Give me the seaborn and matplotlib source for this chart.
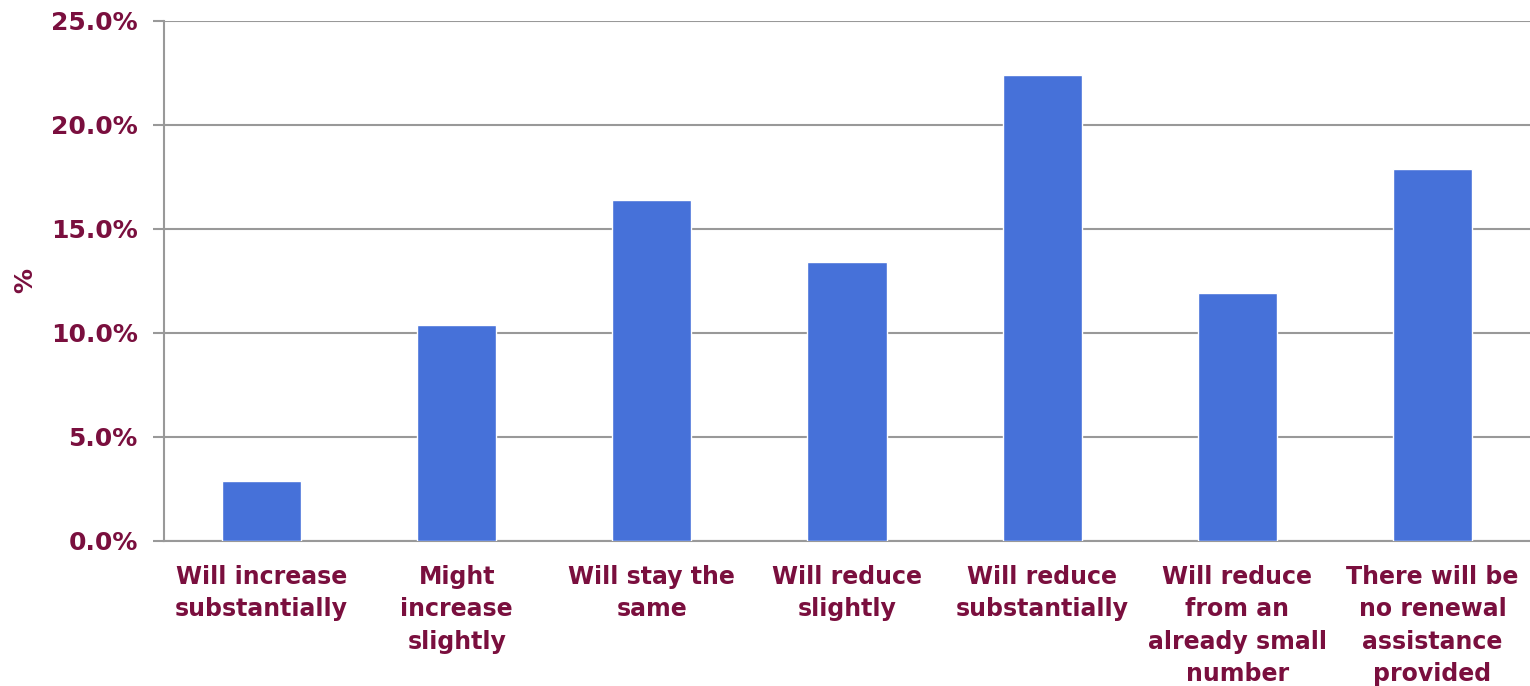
import matplotlib
matplotlib.use("Agg")
import matplotlib.pyplot as plt
import seaborn as sns
import pandas as pd
from matplotlib.ticker import PercentFormatter

categories = [
    "Will increase\nsubstantially",
    "Might\nincrease\nslightly",
    "Will stay the\nsame",
    "Will reduce\nslightly",
    "Will reduce\nsubstantially",
    "Will reduce\nfrom an\nalready small\nnumber",
    "There will be\nno renewal\nassistance\nprovided",
]
values = [2.9, 10.4, 16.4, 13.4, 22.4, 11.9, 17.9]
yticks = [0, 5, 10, 15, 20, 25]

text_color = "#7A0F3E"
bar_color = "#4671D9"
grid_color = "#999999"

sns.set_theme(style="white")
plt.rcParams['font.family'] = ['DejaVu Sans']

df = pd.DataFrame({"cat": categories, "val": values})

fig = plt.figure(figsize=(15.3, 6.86), dpi=100)
ax = fig.add_axes([0.1072, 0.2114, 0.8928, 0.7580])

sns.barplot(data=df, x="cat", y="val", color=bar_color, width=0.405,
            saturation=1, ax=ax, zorder=3)

ax.set_ylim(0, 25)
ax.set_xlim(-0.5, 6.5)
ax.set_yticks(yticks)
ax.yaxis.set_major_formatter(PercentFormatter(decimals=1))
ax.grid(axis="y", color=grid_color, linewidth=1.5, zorder=0)
ax.set_axisbelow(True)

for s in ["top", "right"]:
    ax.spines[s].set_visible(False)
for s in ["left", "bottom"]:
    ax.spines[s].set_color(grid_color)
    ax.spines[s].set_linewidth(1.5)

ax.set_xticks(range(len(categories)))
ax.set_xticklabels(categories, fontsize=17, fontweight="bold", color=text_color,
                   linespacing=1.45, va="top")
ax.tick_params(axis="x", which="major", length=0, pad=17)
ax.set_xticks([i + 0.5 for i in range(len(categories))], minor=True)
ax.tick_params(axis="x", which="minor", length=6, width=1.5, color=grid_color, direction="out")
ax.tick_params(axis="y", length=8, width=1.5, color=grid_color, direction="out",
               labelsize=18, labelcolor=text_color, pad=11, left=True)
for t in ax.get_yticklabels():
    t.set_fontweight("bold")

ax.set_xlabel("")
ax.set_ylabel("%", fontsize=18, fontweight="bold", color=text_color)
ax.yaxis.set_label_coords(-0.093, 0.5)

fig.savefig("out.png", dpi=100)
